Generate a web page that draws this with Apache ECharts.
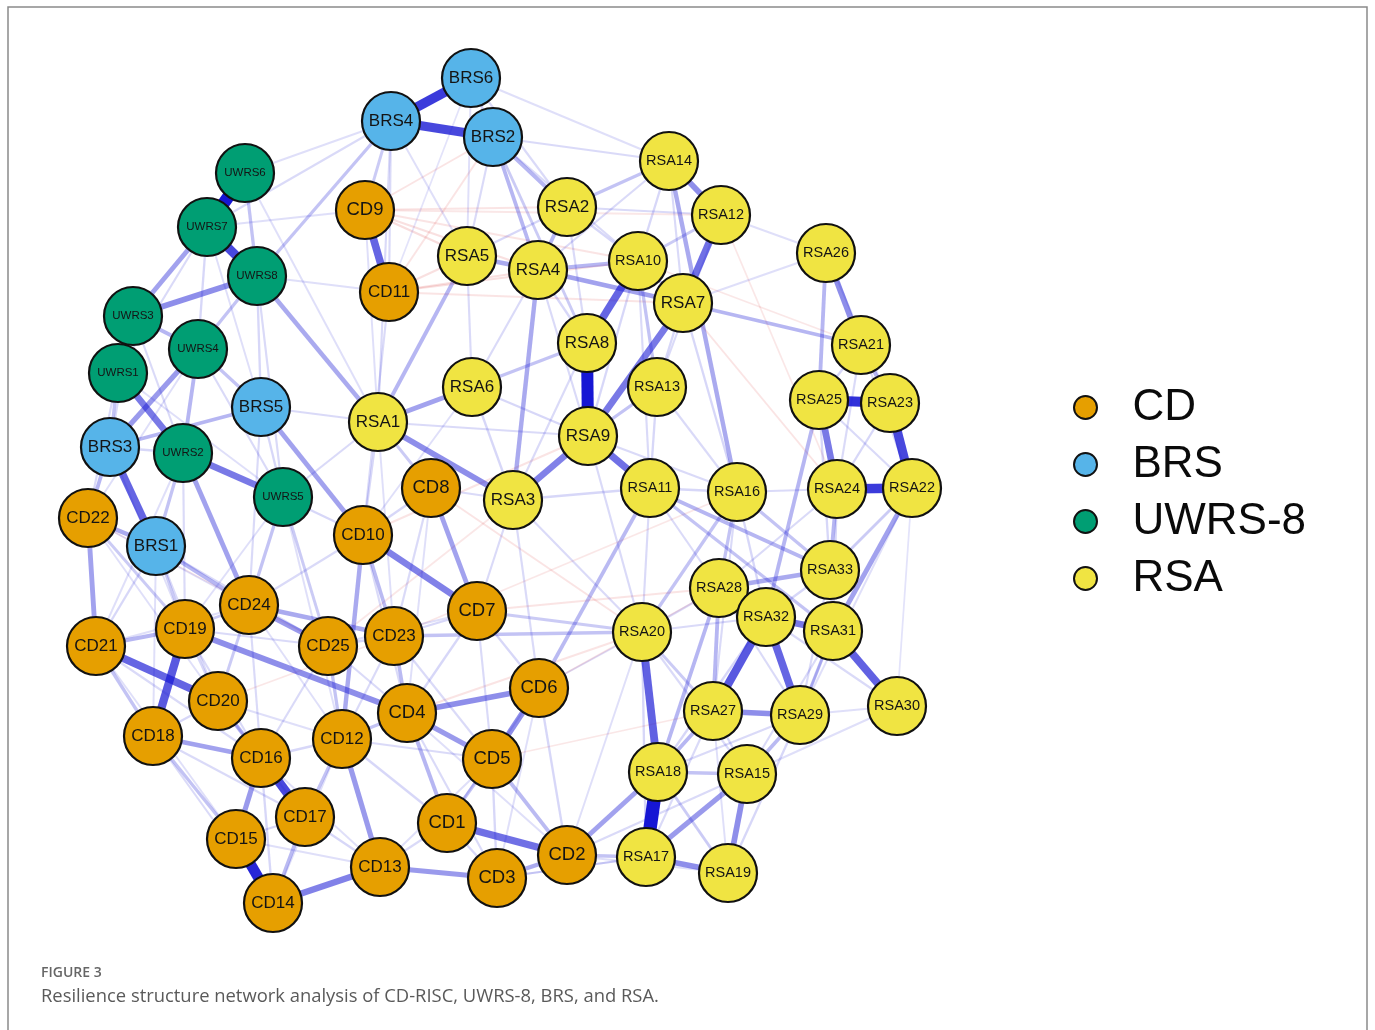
<!DOCTYPE html>
<html>
<head>
<meta charset="utf-8">
<script src="https://cdn.jsdelivr.net/npm/echarts@6/dist/echarts.min.js"></script>
<style>
  html, body { margin: 0; padding: 0; background: #ffffff; }
  #chart { width: 1375px; height: 1030px; }
</style>
</head>
<body>
<div id="chart"></div>
<script>
// Scale groups (legend order)
const groups = ['CD', 'BRS', 'UWRS-8', 'RSA'];
const groupColors = ['#E69F00', '#56B4E9', '#009E73', '#F0E442'];

// Items and their network layout coordinates
const nodeNames = [
  'CD1','CD2','CD3','CD4','CD5','CD6','CD7','CD8','CD9','CD10','CD11','CD12','CD13',
  'CD14','CD15','CD16','CD17','CD18','CD19','CD20','CD21','CD22','CD23','CD24','CD25',
  'BRS1','BRS2','BRS3','BRS4','BRS5','BRS6',
  'UWRS1','UWRS2','UWRS3','UWRS4','UWRS5','UWRS6','UWRS7','UWRS8',
  'RSA1','RSA2','RSA3','RSA4','RSA5','RSA6','RSA7','RSA8','RSA9','RSA10','RSA11',
  'RSA12','RSA13','RSA14','RSA15','RSA16','RSA17','RSA18','RSA19','RSA20','RSA21',
  'RSA22','RSA23','RSA24','RSA25','RSA26','RSA27','RSA28','RSA29','RSA30','RSA31',
  'RSA32','RSA33'
];
const nodeX = [
  447,567,497,407,492,539,477,431,365,363,389,342,380,
  273,236,261,305,153,185,218,96,88,394,249,328,
  156,493,110,391,261,471,
  118,183,133,198,283,245,207,257,
  378,567,513,538,467,472,683,587,588,638,650,
  721,657,669,747,737,646,658,728,642,861,
  912,890,837,819,826,713,719,800,897,833,
  766,830
];
const nodeY = [
  823,855,878,713,759,688,611,488,210,535,292,739,867,
  903,839,758,817,736,629,701,646,518,636,605,646,
  546,137,447,121,407,78,
  373,453,316,349,497,173,227,276,
  422,207,500,270,256,387,303,343,436,261,488,
  215,387,161,774,492,857,772,873,632,345,
  488,403,489,400,253,711,588,715,706,631,
  617,570
];

// Positive partial correlations (edge weights)
const positiveEdges = [
  ['BRS6','BRS4',0.45],['BRS4','BRS2',0.42],['BRS6','BRS2',0.08],
  ['UWRS6','UWRS7',0.6],['UWRS7','UWRS8',0.42],['UWRS3','UWRS8',0.25],['UWRS3','UWRS7',0.2],
  ['UWRS3','UWRS4',0.15],['UWRS4','BRS3',0.22],['UWRS1','UWRS2',0.3],['UWRS2','UWRS5',0.3],
  ['BRS3','BRS1',0.35],['BRS3','CD22',0.15],['CD22','CD21',0.2],['CD22','BRS1',0.18],
  ['CD21','CD20',0.35],['CD19','CD18',0.38],['CD21','CD19',0.15],['CD19','CD4',0.25],
  ['CD24','CD25',0.22],['CD24','CD23',0.18],['CD10','CD7',0.28],['CD8','CD7',0.2],
  ['CD10','CD12',0.18],['RSA1','RSA3',0.25],['RSA1','RSA6',0.2],['RSA3','RSA9',0.28],
  ['RSA9','RSA11',0.32],['RSA8','RSA9',0.58],['RSA8','RSA10',0.35],['RSA7','RSA12',0.32],
  ['RSA7','RSA9',0.3],['RSA14','RSA12',0.25],['RSA14','RSA2',0.12],['RSA4','RSA5',0.18],
  ['RSA4','RSA2',0.15],['RSA4','RSA10',0.15],['RSA4','RSA7',0.2],['RSA26','RSA21',0.25],
  ['RSA26','RSA25',0.15],['RSA25','RSA23',0.48],['RSA21','RSA23',0.15],['RSA23','RSA22',0.42],
  ['RSA25','RSA24',0.3],['RSA24','RSA22',0.45],['RSA22','RSA31',0.2],['RSA24','RSA33',0.15],
  ['RSA33','RSA28',0.18],['RSA32','RSA31',0.3],['RSA32','RSA27',0.38],['RSA32','RSA29',0.35],
  ['RSA31','RSA30',0.36],['RSA27','RSA29',0.25],['RSA20','RSA18',0.36],['RSA18','RSA17',0.65],
  ['RSA17','RSA19',0.25],['RSA15','RSA19',0.25],['RSA15','RSA17',0.22],['RSA18','CD2',0.2],
  ['RSA27','RSA18',0.15],['RSA28','RSA18',0.15],['CD9','CD11',0.35],['CD1','CD2',0.32],
  ['CD3','CD2',0.18],['CD13','CD3',0.22],['CD14','CD13',0.28],['CD15','CD14',0.5],
  ['CD16','CD17',0.42],['CD16','CD15',0.22],['CD12','CD13',0.22],['CD4','CD6',0.25],
  ['CD6','CD5',0.25],['CD4','CD5',0.22],['CD18','CD16',0.2],['UWRS8','RSA1',0.18],
  ['BRS5','CD10',0.2],['BRS1','CD24',0.15],['UWRS2','CD24',0.2],['BRS2','RSA4',0.15],
  ['BRS5','BRS3',0.15],['UWRS4','UWRS2',0.15],['UWRS4','BRS5',0.12],['UWRS8','UWRS4',0.12],
  ['RSA11','RSA33',0.15],['RSA11','RSA31',0.12],['RSA14','RSA16',0.18],['RSA7','RSA21',0.15],
  ['RSA25','RSA32',0.15],['RSA20','RSA16',0.12],['RSA28','RSA27',0.15],['CD23','RSA20',0.12],
  ['CD7','RSA20',0.1],['CD6','RSA11',0.14],['RSA4','RSA3',0.18],['RSA5','RSA1',0.15],
  ['CD20','CD16',0.15],['CD18','CD15',0.12],['CD17','CD14',0.14],['CD12','CD4',0.12],
  ['CD4','CD1',0.15],['CD5','CD1',0.12],['CD5','CD2',0.14],['CD12','CD17',0.12],
  ['CD25','CD12',0.12],['CD23','CD4',0.14],['CD10','CD23',0.14],['CD8','RSA1',0.1],
  ['RSA10','RSA7',0.12],['RSA12','RSA10',0.1],['RSA6','RSA8',0.12],['RSA13','RSA9',0.12],
  ['RSA13','RSA10',0.12],['RSA16','RSA28',0.12],['RSA16','RSA33',0.12],['RSA15','RSA29',0.14],
  ['RSA18','RSA15',0.12],['RSA29','RSA31',0.12],['RSA33','RSA22',0.1],['RSA2','BRS2',0.15],
  ['BRS4','UWRS8',0.12],['BRS4','CD9',0.1],['BRS2','RSA8',0.1],['UWRS6','UWRS8',0.12],
  ['UWRS1','UWRS3',0.1],['UWRS1','BRS3',0.12],['BRS1','CD19',0.1],['CD22','CD19',0.1],
  ['CD21','CD18',0.12],['CD24','CD19',0.1],['CD24','CD20',0.1],['UWRS5','CD24',0.12],
  ['UWRS5','CD25',0.1],['UWRS2','BRS1',0.12],['RSA20','RSA27',0.1],['RSA17','CD2',0.12],
  ['RSA19','RSA18',0.1],['RSA28','RSA32',0.14],
  // weaker associations
  ['UWRS6','BRS4',0.05],['UWRS6','RSA1',0.05],['UWRS7','UWRS4',0.07],['UWRS7','UWRS1',0.06],
  ['UWRS7','BRS5',0.05],['UWRS3','BRS3',0.06],['UWRS3','UWRS2',0.06],['UWRS8','BRS5',0.07],
  ['UWRS8','UWRS5',0.06],['UWRS4','UWRS5',0.06],['UWRS4','CD22',0.05],['UWRS1','CD22',0.06],
  ['UWRS1','UWRS5',0.05],['UWRS2','CD19',0.06],['UWRS2','CD21',0.05],['BRS5','UWRS5',0.07],
  ['BRS5','RSA1',0.06],['BRS5','CD24',0.06],['BRS3','UWRS2',0.07],['BRS3','CD19',0.05],
  ['BRS1','CD21',0.07],['BRS1','CD20',0.06],['BRS1','CD18',0.05],['CD22','CD24',0.05],
  ['CD21','CD16',0.06],['CD21','CD15',0.05],['CD19','CD20',0.07],['CD19','CD16',0.06],
  ['CD19','CD25',0.06],['CD20','CD18',0.07],['CD20','CD12',0.05],['CD20','CD17',0.06],
  ['CD18','CD14',0.06],['CD16','CD12',0.07],['CD16','CD14',0.07],['CD16','CD13',0.05],
  ['CD17','CD13',0.07],['CD17','CD15',0.07],['CD15','CD13',0.05],['CD14','CD12',0.05],
  ['CD13','CD1',0.06],['CD13','CD5',0.05],['CD12','CD5',0.06],['CD12','CD1',0.07],
  ['CD12','CD23',0.06],['CD4','CD3',0.06],['CD4','CD2',0.05],['CD4','CD7',0.07],
  ['CD4','CD25',0.06],['CD5','CD3',0.07],['CD5','CD7',0.06],['CD6','CD7',0.07],
  ['CD6','CD2',0.07],['CD6','CD3',0.05],['CD6','RSA20',0.05],['CD1','CD3',0.07],
  ['CD1','CD6',0.06],['CD2','RSA20',0.05],['CD2','RSA15',0.06],['CD3','RSA17',0.05],
  ['CD7','CD23',0.07],['CD7','RSA3',0.06],['CD7','CD25',0.05],['CD8','CD10',0.07],
  ['CD8','CD23',0.06],['CD8','RSA3',0.06],['CD8','CD4',0.05],['CD10','RSA1',0.07],
  ['CD10','CD24',0.06],['CD10','CD4',0.06],['CD10','RSA6',0.05],['CD23','CD25',0.07],
  ['CD23','CD5',0.06],['CD25','CD16',0.06],['CD24','CD16',0.06],['CD24','CD12',0.05],
  ['CD9','UWRS7',0.05],['CD11','CD10',0.06],['CD11','UWRS8',0.05],['CD11','BRS4',0.06],
  ['CD9','RSA1',0.05],['RSA1','RSA9',0.06],['RSA1','CD23',0.05],['RSA6','RSA3',0.07],
  ['RSA6','RSA9',0.07],['RSA6','RSA4',0.06],['RSA6','RSA5',0.06],['RSA3','RSA11',0.07],
  ['RSA3','RSA8',0.06],['RSA3','CD6',0.06],['RSA3','RSA20',0.06],['RSA5','RSA2',0.07],
  ['RSA5','BRS2',0.06],['RSA2','RSA10',0.07],['RSA2','RSA12',0.06],['RSA2','RSA8',0.06],
  ['RSA4','RSA8',0.07],['RSA4','RSA9',0.06],['RSA4','RSA14',0.06],['RSA10','RSA14',0.07],
  ['RSA10','RSA9',0.07],['RSA10','RSA11',0.06],['RSA7','RSA13',0.07],['RSA7','RSA14',0.06],
  ['RSA7','RSA16',0.07],['RSA7','RSA26',0.05],['RSA12','RSA26',0.05],['RSA12','RSA13',0.06],
  ['RSA13','RSA11',0.07],['RSA13','RSA16',0.06],['RSA9','RSA16',0.06],['RSA9','RSA20',0.06],
  ['RSA11','RSA16',0.07],['RSA11','RSA28',0.06],['RSA11','RSA20',0.06],['RSA16','RSA24',0.06],
  ['RSA16','RSA32',0.07],['RSA16','RSA27',0.06],['RSA26','RSA23',0.05],['RSA21','RSA25',0.07],
  ['RSA21','RSA24',0.06],['RSA21','RSA22',0.06],['RSA25','RSA22',0.06],['RSA25','RSA33',0.07],
  ['RSA23','RSA24',0.07],['RSA24','RSA31',0.07],['RSA24','RSA28',0.06],['RSA33','RSA32',0.07],
  ['RSA33','RSA31',0.07],['RSA33','RSA29',0.06],['RSA28','RSA20',0.06],['RSA28','RSA29',0.06],
  ['RSA32','RSA30',0.06],['RSA32','RSA18',0.07],['RSA31','RSA29',0.07],['RSA27','RSA15',0.07],
  ['RSA27','RSA17',0.06],['RSA27','RSA19',0.05],['RSA29','RSA19',0.07],['RSA29','RSA30',0.05],
  ['RSA29','RSA18',0.06],['RSA15','RSA30',0.05],['RSA15','RSA31',0.06],['RSA20','RSA17',0.07],
  ['RSA20','RSA15',0.06],['RSA20','RSA32',0.06],['RSA19','CD2',0.05],['RSA17','CD3',0.05],
  ['RSA22','RSA30',0.04],['RSA22','RSA29',0.05],['BRS6','RSA14',0.05],['BRS6','RSA2',0.06],
  ['BRS6','RSA5',0.05],['BRS2','RSA14',0.06],['BRS2','RSA10',0.06],['BRS4','RSA5',0.05],
  ['BRS4','UWRS7',0.06],['BRS4','RSA1',0.06],['BRS6','CD11',0.04],['UWRS5','CD10',0.07],
  ['UWRS5','RSA1',0.06],['UWRS5','CD19',0.05],['UWRS5','CD12',0.05],['BRS1','CD25',0.06],
  ['CD22','CD20',0.05],['CD21','CD24',0.05],['CD18','CD17',0.06]
];

// Negative partial correlations
const negativeEdges = [
  ['CD9','RSA4',0.06],['CD9','RSA10',0.05],['CD11','RSA4',0.06],['CD11','RSA10',0.06],
  ['CD9','RSA2',0.05],['CD11','RSA7',0.05],['CD9','RSA12',0.04],['BRS2','CD11',0.05],
  ['BRS2','CD9',0.05],['CD9','RSA5',0.07],['CD11','RSA5',0.06],['CD7','RSA28',0.05],
  ['CD6','RSA28',0.05],['CD23','RSA16',0.04],['CD8','RSA20',0.05],['RSA7','RSA24',0.05],
  ['RSA12','RSA24',0.04],['CD10','RSA9',0.05],['CD4','RSA20',0.05],['CD5','RSA27',0.04],
  ['CD25','RSA3',0.04],['CD22','CD25',0.03],['CD20','CD23',0.04],['RSA10','RSA21',0.04]
];

const categoryOf = name =>
  name.startsWith('CD') ? 0 : name.startsWith('BRS') ? 1 : name.startsWith('UWRS') ? 2 : 3;

// Label size shrinks with label length so it fits inside the circle
function labelFont(name) {
  if (name.startsWith('UWRS')) return 11.5;
  if (name.length <= 3) return 18.5;
  if (name.startsWith('RSA') && name.length === 5) return 14.5;
  return 17;
}

const nodes = nodeNames.map((name, i) => ({
  name: name,
  value: [nodeX[i], nodeY[i]],
  category: categoryOf(name),
  label: { fontSize: labelFont(name) }
}));

function edgeStyle(weight, positive) {
  const a = Math.min(1, 0.05 + 1.75 * weight);
  const rgb = positive ? '22,22,212' : '215,60,60';
  return { width: 1 + weight * 19, color: 'rgba(' + rgb + ',' + a.toFixed(3) + ')', opacity: 1 };
}

const links = []
  .concat(negativeEdges.map(e => ({ e, pos: false })))
  .concat(positiveEdges.map(e => ({ e, pos: true })))
  .sort((p, q) => p.e[2] - q.e[2])
  .map(({ e, pos }) => ({
    source: e[0],
    target: e[1],
    value: pos ? e[2] : -e[2],
    lineStyle: edgeStyle(e[2], pos)
  }));

const chart = echarts.init(document.getElementById('chart'), null, { renderer: 'canvas' });

chart.setOption({
  animation: false,
  backgroundColor: '#ffffff',
  grid: { left: 0, right: 0, top: 0, bottom: 0 },
  xAxis: { type: 'value', min: 0, max: 1375, show: false },
  yAxis: { type: 'value', min: 0, max: 1030, inverse: true, show: false },
  legend: {
    data: groups,
    orient: 'vertical',
    left: 1068,
    top: 374,
    icon: 'circle',
    itemWidth: 84,
    itemHeight: 23,
    itemGap: 0,
    selectedMode: false,
    itemStyle: { borderColor: '#111', borderWidth: 2 },
    textStyle: {
      fontFamily: '"Liberation Sans", Arial, sans-serif',
      fontSize: 44,
      lineHeight: 57,
      color: '#0a0a0a'
    }
  },
  graphic: [
    {
      type: 'rect',
      silent: true,
      shape: { x: 8, y: 7, width: 1359, height: 1040 },
      style: { fill: 'none', stroke: '#8a8a8a', lineWidth: 1.5 }
    },
    {
      type: 'text',
      left: 41,
      top: 966,
      style: {
        text: 'FIGURE 3',
        fill: '#666',
        font: '600 14px "Open Sans", sans-serif'
      }
    },
    {
      type: 'text',
      left: 41,
      top: 988,
      style: {
        text: 'Resilience structure network analysis of CD-RISC, UWRS-8, BRS, and RSA.',
        fill: '#5a5a5a',
        font: '18.4px "Open Sans", sans-serif'
      }
    }
  ],
  series: [{
    type: 'graph',
    layout: 'none',
    coordinateSystem: 'cartesian2d',
    symbol: 'circle',
    symbolSize: 58,
    edgeSymbol: ['none', 'none'],
    categories: groups.map((g, i) => ({
      name: g,
      itemStyle: { color: groupColors[i], borderColor: '#111', borderWidth: 2.2 }
    })),
    label: {
      show: true,
      position: 'inside',
      color: '#141414',
      fontFamily: '"Liberation Sans", Arial, sans-serif'
    },
    lineStyle: { opacity: 1, curveness: 0 },
    emphasis: { disabled: true },
    data: nodes,
    links: links
  }]
});
</script>
</body>
</html>
